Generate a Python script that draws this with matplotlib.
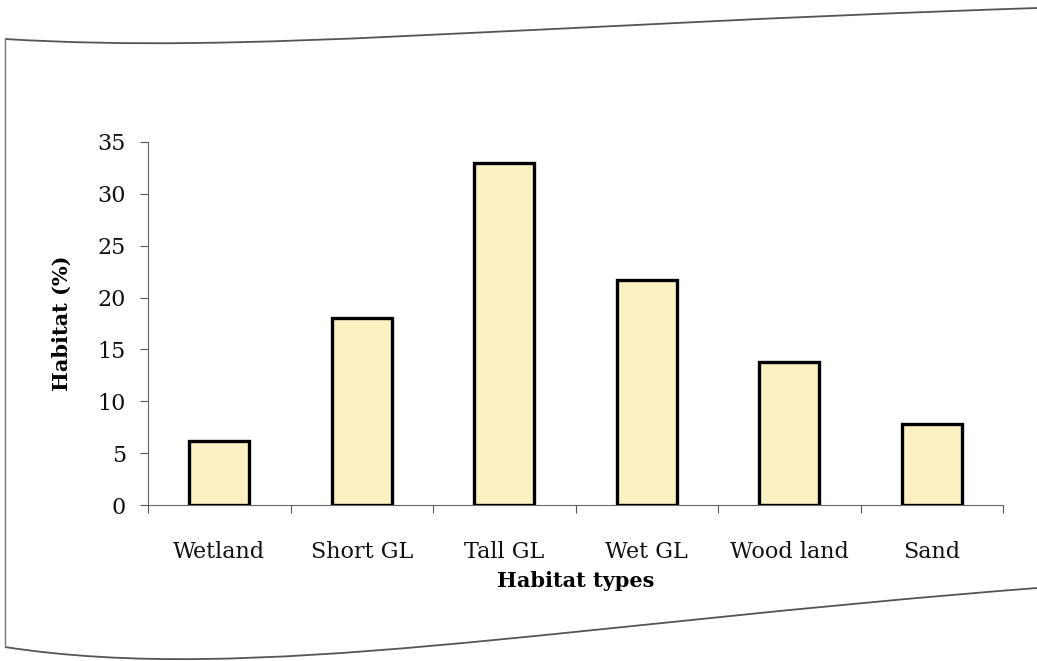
import numpy as np
import matplotlib
matplotlib.use("Agg")
import matplotlib.pyplot as plt
from matplotlib.path import Path
from matplotlib.patches import PathPatch

# habitat share per habitat type
habitats = ["Wetland", "Short GL", "Tall GL", "Wet GL", "Wood land", "Sand"]
habitat_pct = [6.2, 18.0, 33.0, 21.7, 13.8, 7.8]
y_ticks = [0, 5, 10, 15, 20, 25, 30, 35]

W, H = 1037, 661
fig = plt.figure(figsize=(W / 100, H / 100), dpi=100)
fig.patch.set_facecolor("white")

ax = fig.add_axes([148 / W, 156 / H, 855 / W, 363 / H])
x = np.arange(len(habitats))
ax.bar(x, habitat_pct, width=0.42, color="#fcf1c2", edgecolor="black", linewidth=2.4, zorder=3)

ax.set_xlim(-0.5, len(habitats) - 0.5)
ax.set_ylim(0, 35)
ax.set_yticks(y_ticks)

# category labels at bar centres, tick marks between categories
ax.set_xticks(x)
ax.set_xticklabels(habitats)
ax.set_xticks(np.arange(-0.5, len(habitats)), minor=True)
ax.tick_params(axis="x", which="major", length=0, pad=26)
ax.tick_params(axis="x", which="minor", length=6, width=0.8, direction="out", color="#555555")
ax.tick_params(axis="y", length=6, width=0.8, direction="out", color="#555555", pad=10)

serif = "DejaVu Serif"
for lbl in ax.get_xticklabels() + ax.get_yticklabels():
    lbl.set_fontfamily(serif)
    lbl.set_fontsize(16)
    lbl.set_color("#111111")

for side in ["top", "right"]:
    ax.spines[side].set_visible(False)
for side in ["left", "bottom"]:
    ax.spines[side].set_color("#666666")
    ax.spines[side].set_linewidth(0.8)

ax.set_xlabel("Habitat types", fontfamily=serif, fontweight="heavy", fontsize=15, labelpad=6)
ax.set_ylabel("Habitat (%)", fontfamily=serif, fontweight="heavy", fontsize=15, labelpad=18)

# page frame around the figure (pixel coordinates, origin top-left)
def frame_curve(pts):
    verts = [(px, H - py) for px, py in pts]
    codes = [Path.MOVETO, Path.CURVE4, Path.CURVE4, Path.CURVE4]
    return PathPatch(Path(verts, codes), facecolor="none", edgecolor="#555555",
                     linewidth=1.3, transform=None)

fig.add_artist(frame_curve([(5, 39), (250, 54), (500, 26), (1037, 8)]))
fig.add_artist(frame_curve([(5, 647), (250, 685), (560, 625), (1037, 588)]))
fig.add_artist(plt.Line2D([5 / W, 5 / W], [1 - 39 / H, 1 - 647 / H], color="#777777",
                          linewidth=1.0, transform=fig.transFigure))

fig.savefig("out.png", dpi=100, facecolor="white")
